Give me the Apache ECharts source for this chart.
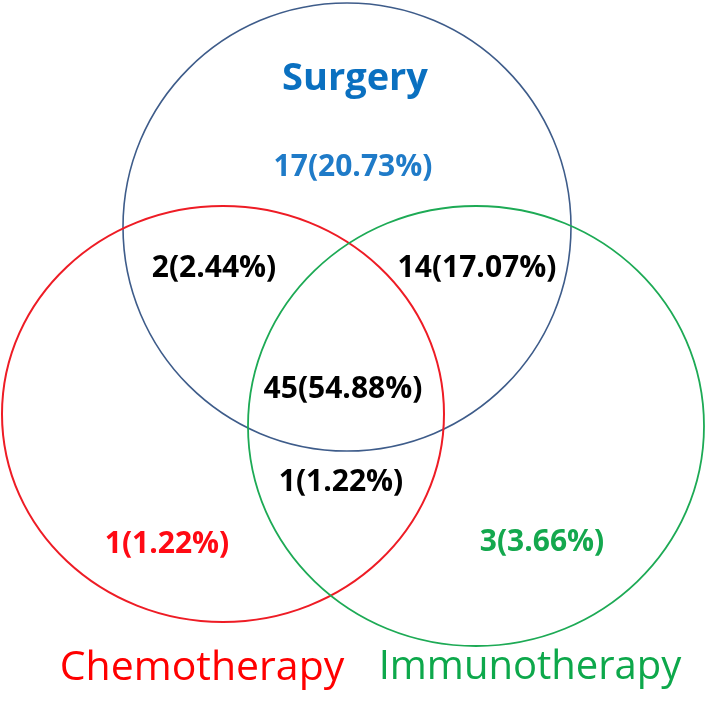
<!DOCTYPE html>
<html>
<head>
<meta charset="utf-8">
<script src="https://cdn.jsdelivr.net/npm/echarts@6/dist/echarts.min.js"></script>
<style>html,body{margin:0;padding:0;background:#fff}#c{width:709px;height:701px}</style>
</head>
<body>
<div id="c"></div>
<script>
// ---- data ----
const setNames = ['Surgery', 'Chemotherapy', 'Immunotherapy'];
const regionNames = ['Surgery only', 'Surgery & Chemotherapy', 'Surgery & Immunotherapy', 'All three',
  'Chemotherapy & Immunotherapy', 'Chemotherapy only', 'Immunotherapy only'];
const regionCounts = [17, 2, 14, 45, 1, 1, 3];
const regionPercents = ['20.73', '2.44', '17.07', '54.88', '1.22', '1.22', '3.66'];

// ---- layout (canvas units) ----
const setShapes = [[347, 227, 224, 224], [223, 414, 221, 208], [476, 426, 228, 220]];
const setStroke = ['#3E5C8A', '#EE1C25', '#1DAA55'];
const setStrokeWidth = [1.6, 2, 1.8];
const setLabelPos = [[355, 79], [202, 668], [530, 668]];
const setLabelColor = ['#0A70C0', '#FF0000', '#0DA84B'];
const setLabelWeight = ['bold', 'normal', 'normal'];
const setLabelSize = [38, 41, 40];
const regionPos = [[353, 167], [214, 268], [477, 268], [343, 389], [341, 482], [167, 544], [542, 542]];
const regionColor = ['#1F7BC8', '#000000', '#000000', '#000000', '#000000', '#FF0A14', '#14A84E'];

const FONT = '"Open Sans", sans-serif';
const chart = echarts.init(document.getElementById('c'), null, {renderer: 'canvas'});

const circleData = setShapes.map((s, i) => ({name: setNames[i], value: s}));
const regionData = regionCounts.map((v, i) => ({
  name: regionNames[i], value: regionPos[i],
  label: {color: regionColor[i]},
  text: v + '(' + regionPercents[i] + '%)'
}));
const setLabelData = setNames.map((n, i) => ({
  name: n, value: setLabelPos[i],
  label: {color: setLabelColor[i], fontWeight: setLabelWeight[i], fontSize: setLabelSize[i]}
}));

chart.setOption({
  backgroundColor: '#fff',
  animation: false,
  grid: {left: 0, right: 0, top: 0, bottom: 0},
  xAxis: {type: 'value', min: 0, max: 709, show: false},
  yAxis: {type: 'value', min: 0, max: 701, inverse: true, show: false},
  series: [
    {
      type: 'custom',
      data: circleData,
      renderItem: function (params, api) {
        const i = params.dataIndex;
        const c = api.coord([api.value(0), api.value(1)]);
        const s = api.size([api.value(2), api.value(3)]);
        return {
          type: 'ellipse',
          shape: {cx: c[0], cy: c[1], rx: s[0], ry: s[1]},
          style: {fill: 'none', stroke: setStroke[i], lineWidth: setStrokeWidth[i]}
        };
      },
      silent: true
    },
    {
      type: 'scatter',
      symbolSize: 0,
      itemStyle: {opacity: 1},
      data: regionData,
      label: {
        show: true, position: 'inside', fontFamily: FONT, fontWeight: 'bold', fontSize: 30,
        opacity: 1,
        formatter: p => p.data.text
      },
      silent: true
    },
    {
      type: 'scatter',
      symbolSize: 0,
      itemStyle: {opacity: 1},
      data: setLabelData,
      label: {show: true, position: 'inside', fontFamily: FONT, opacity: 1, formatter: p => p.name},
      silent: true
    }
  ]
});
</script>
</body>
</html>
